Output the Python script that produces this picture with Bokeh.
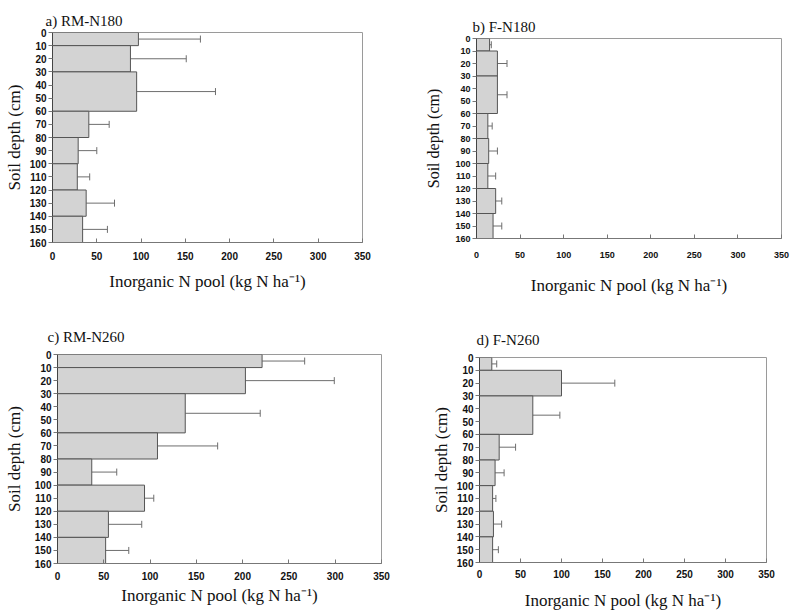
from bokeh.plotting import figure
from bokeh.models import ColumnDataSource, Range1d, FixedTicker, Whisker, TeeHead
from bokeh.layouts import column, row
from bokeh.embed import file_html
from bokeh.resources import INLINE

# ---- data ----
depth_top = [0, 10, 30, 60, 80, 100, 120, 140]
depth_bottom = [10, 30, 60, 80, 100, 120, 140, 160]

a_vals = [97, 88, 95, 41, 29, 28, 38, 34]
a_err = [70, 63, 89, 23, 21, 14, 32, 28]

b_vals = [15, 24, 24, 13, 14, 13, 22, 19]
b_err = [2, 11, 11, 5, 10, 9, 7, 10]

c_vals = [221, 203, 138, 108, 37, 94, 55, 52]
c_err = [46, 96, 81, 65, 27, 10, 36, 25]

d_vals = [15, 100, 65, 24, 19, 16, 17, 16]
d_err = [6, 65, 33, 20, 11, 4, 10, 7]

titles = ["a) RM-N180", "b) F-N180", "c) RM-N260", "d) F-N260"]
x_ticks = [0, 50, 100, 150, 200, 250, 300, 350]
y_ticks = [0, 10, 20, 30, 40, 50, 60, 70, 80, 90, 100, 110, 120, 130, 140, 150, 160]
x_label = "Inorganic N pool (kg N ha\u207b\u00b9)"
y_label = "Soil depth (cm)"

SERIF = "'Liberation Serif', 'Times New Roman', serif"
SANS = "'Liberation Sans', Arial, sans-serif"


def panel(title, vals, errs, width, height, bl, br, bt, bb,
          t_off, t_valign, t_stand, xt_stand, xl_stand, yl_stand,
          tick_size="10px", ylab_size="17px"):
    mids = [(t + b) / 2 for t, b in zip(depth_top, depth_bottom)]
    hi = [v + e for v, e in zip(vals, errs)]
    src = ColumnDataSource(dict(top=depth_top, bottom=depth_bottom, val=vals,
                                mid=mids, hi=hi, zero=[0] * len(vals)))
    p = figure(width=width, height=height, output_backend="svg", toolbar_location=None,
               x_range=Range1d(0, 350), y_range=Range1d(160, 0),
               min_border_left=bl, min_border_right=br, min_border_top=bt,
               min_border_bottom=bb, title=title)
    try:
        p.frame_align = False
    except Exception:
        pass
    p.title.text_font = SERIF
    p.title.text_font_style = "normal"
    p.title.text_font_size = "15px"
    p.title.offset = t_off
    p.title.standoff = t_stand
    p.title.vertical_align = t_valign
    p.title.text_color = "#111111"

    p.quad(left="zero", right="val", top="top", bottom="bottom", source=src,
           fill_color="#d3d3d3", line_color="#555555", line_width=1)
    w = Whisker(base="mid", lower="val", upper="hi", dimension="width", source=src,
                line_color="#6e6e6e", line_width=1,
                upper_head=TeeHead(size=7, line_color="#6e6e6e", line_width=1),
                lower_head=None)
    p.add_layout(w)

    p.xgrid.visible = False
    p.ygrid.visible = False
    p.outline_line_color = "#9a9a9a"
    p.outline_line_width = 1

    xa = p.xaxis[0]
    ya = p.yaxis[0]
    xa.ticker = FixedTicker(ticks=x_ticks)
    ya.ticker = FixedTicker(ticks=y_ticks)
    for ax in (xa, ya):
        ax.major_label_text_font = SANS
        ax.major_label_text_font_style = "bold"
        ax.major_label_text_font_size = tick_size
        ax.major_label_text_color = "#111111"
        ax.axis_label_text_font = SERIF
        ax.axis_label_text_font_style = "normal"
        ax.axis_label_text_color = "#111111"
        ax.minor_tick_line_color = None
        ax.axis_line_color = "#777777"
        ax.major_tick_line_color = "#777777"
    xa.axis_label = x_label
    ya.axis_label = y_label
    xa.axis_label_text_font_size = "17px"
    ya.axis_label_text_font_size = ylab_size
    xa.major_tick_in = 4
    xa.major_tick_out = 0
    xa.major_label_standoff = xt_stand
    xa.axis_label_standoff = xl_stand
    ya.major_tick_in = 0
    ya.major_tick_out = 4
    ya.major_label_standoff = 2
    ya.axis_label_standoff = yl_stand
    ya.axis_line_color = "#444444"
    return p


pa = panel(titles[0], a_vals, a_err, 400, 300, 52, 38, 32, 58, -7, "top", 4, 9, 9, 3)
pb = panel(titles[1], b_vals, b_err, 391, 300, 76, 10, 38, 62, -4, "top", 4, 13, 15, 10,
           tick_size="9px", ylab_size="16px")
pc = panel(titles[2], c_vals, c_err, 400, 314, 57, 19, 54, 51, -10, "bottom", 20, 8, 3, 8)
pd = panel(titles[3], d_vals, d_err, 391, 314, 79, 25, 57, 52, -3, "bottom", 20, 7, 10, 3)

layout = column(row(pa, pb), row(pc, pd))
open("out.html", "w").write(file_html(layout, INLINE))
